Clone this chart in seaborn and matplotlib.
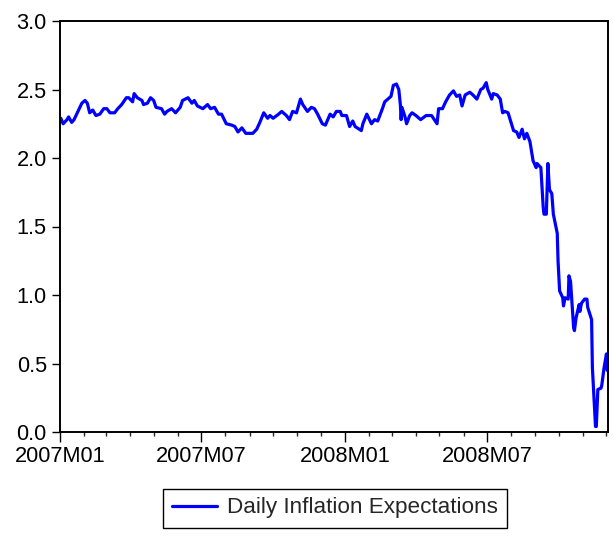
import matplotlib.pyplot as plt
import matplotlib.dates as mdates
import pandas as pd
import seaborn as sns

# Valores (datas aproximadas, expectativa de inflação em %)
datas = [
    "2007-01-02", "2007-01-05", "2007-01-10", "2007-01-12", "2007-01-16", "2007-01-19",
    "2007-01-24", "2007-01-29", "2007-02-02", "2007-02-05", "2007-02-08", "2007-02-12",
    "2007-02-16", "2007-02-21", "2007-02-26", "2007-03-02", "2007-03-06", "2007-03-12",
    "2007-03-16", "2007-03-21", "2007-03-27", "2007-03-30", "2007-04-04", "2007-04-06",
    "2007-04-10", "2007-04-16", "2007-04-18", "2007-04-23", "2007-04-27", "2007-05-01",
    "2007-05-04", "2007-05-11", "2007-05-15", "2007-05-18", "2007-05-24", "2007-05-29",
    "2007-06-04", "2007-06-07", "2007-06-14", "2007-06-19", "2007-06-22", "2007-06-26",
    "2007-07-03", "2007-07-09", "2007-07-13", "2007-07-18", "2007-07-23", "2007-07-27",
    "2007-08-02", "2007-08-09", "2007-08-13", "2007-08-17", "2007-08-22", "2007-08-27",
    "2007-08-29", "2007-09-05", "2007-09-10", "2007-09-14", "2007-09-19", "2007-09-24",
    "2007-09-27", "2007-10-01", "2007-10-08", "2007-10-12", "2007-10-18", "2007-10-22",
    "2007-10-26", "2007-10-31", "2007-11-05", "2007-11-08", "2007-11-14", "2007-11-19",
    "2007-11-23", "2007-11-27", "2007-12-03", "2007-12-07", "2007-12-13", "2007-12-17",
    "2007-12-21", "2007-12-26", "2007-12-28", "2008-01-03", "2008-01-07", "2008-01-11",
    "2008-01-14", "2008-01-22", "2008-01-24", "2008-01-29", "2008-02-04", "2008-02-08",
    "2008-02-12", "2008-02-18", "2008-02-21", "2008-02-25", "2008-02-29", "2008-03-03",
    "2008-03-07", "2008-03-10", "2008-03-12", "2008-03-13", "2008-03-14", "2008-03-18",
    "2008-03-20", "2008-03-24", "2008-03-27", "2008-04-01", "2008-04-07", "2008-04-14",
    "2008-04-21", "2008-04-28", "2008-04-30", "2008-05-05", "2008-05-09", "2008-05-14",
    "2008-05-19", "2008-05-23", "2008-05-27", "2008-05-30", "2008-06-03", "2008-06-09",
    "2008-06-13", "2008-06-18", "2008-06-23", "2008-06-26", "2008-06-30", "2008-07-02",
    "2008-07-07", "2008-07-09", "2008-07-14", "2008-07-18", "2008-07-21", "2008-07-24",
    "2008-07-28", "2008-08-04", "2008-08-08", "2008-08-11", "2008-08-15", "2008-08-18",
    "2008-08-21", "2008-08-25", "2008-08-29", "2008-09-02", "2008-09-03", "2008-09-08",
    "2008-09-11", "2008-09-12", "2008-09-15", "2008-09-17", "2008-09-19", "2008-09-22",
    "2008-09-24", "2008-09-29", "2008-09-30", "2008-10-02", "2008-10-06", "2008-10-07",
    "2008-10-09", "2008-10-13", "2008-10-14", "2008-10-16", "2008-10-20", "2008-10-21",
    "2008-10-23", "2008-10-27", "2008-10-28", "2008-10-30", "2008-11-03", "2008-11-06",
    "2008-11-07", "2008-11-12", "2008-11-13", "2008-11-17", "2008-11-18", "2008-11-20",
    "2008-11-24", "2008-11-25", "2008-11-28", "2008-12-01", "2008-12-02",
]
expectativa = [
    2.29, 2.25, 2.28, 2.30, 2.26, 2.28,
    2.34, 2.40, 2.42, 2.40, 2.33, 2.35,
    2.31, 2.32, 2.36, 2.36, 2.33, 2.33,
    2.36, 2.39, 2.44, 2.44, 2.41, 2.47,
    2.44, 2.42, 2.39, 2.40, 2.44, 2.42,
    2.37, 2.36, 2.32, 2.34, 2.36, 2.33,
    2.37, 2.42, 2.44, 2.40, 2.42, 2.38,
    2.36, 2.39, 2.36, 2.37, 2.32, 2.32,
    2.25, 2.24, 2.23, 2.19, 2.22, 2.18,
    2.18, 2.18, 2.21, 2.26, 2.33, 2.29,
    2.31, 2.29, 2.32, 2.34, 2.31, 2.28,
    2.34, 2.33, 2.43, 2.39, 2.34, 2.37,
    2.36, 2.32, 2.25, 2.24, 2.32, 2.30,
    2.34, 2.34, 2.31, 2.31, 2.23, 2.27,
    2.23, 2.20, 2.25, 2.32, 2.25, 2.28,
    2.27, 2.36, 2.41, 2.43, 2.45, 2.53,
    2.54, 2.50, 2.39, 2.28, 2.37, 2.30,
    2.25, 2.31, 2.33, 2.31, 2.28, 2.31,
    2.31, 2.25, 2.36, 2.36, 2.41, 2.46,
    2.49, 2.45, 2.46, 2.38, 2.46, 2.48,
    2.46, 2.43, 2.50, 2.51, 2.55, 2.50,
    2.43, 2.47, 2.46, 2.43, 2.33, 2.34,
    2.33, 2.20, 2.19, 2.15, 2.21, 2.14,
    2.18, 2.12, 1.98, 1.93, 1.96, 1.93,
    1.64, 1.59, 1.59, 1.96, 1.77, 1.74,
    1.59, 1.45, 1.25, 1.03, 0.98, 0.92,
    0.98, 0.97, 1.14, 1.10, 0.76, 0.74,
    0.83, 0.93, 0.88, 0.94, 0.97, 0.97,
    0.91, 0.82, 0.47, 0.04, 0.04, 0.31,
    0.32, 0.34, 0.47, 0.57, 0.45,
]
rotulo_serie = "Daily Inflation Expectations"
marcas_x = ["2007-01-01", "2007-07-01", "2008-01-01", "2008-07-01"]
marcas_y = [0.0, 0.5, 1.0, 1.5, 2.0, 2.5, 3.0]

df = pd.DataFrame({"data": pd.to_datetime(datas), "valor": expectativa})

sns.set_style("ticks")
plt.rcParams["font.family"] = ["Liberation Sans", "DejaVu Sans"]

fig = plt.figure(figsize=(6.13, 5.56), dpi=100)
ax = fig.add_axes([60 / 613, 1 - 432 / 556, 548 / 613, 411 / 556])

sns.lineplot(data=df, x="data", y="valor", ax=ax, color="#0000ff",
             linewidth=2.3, label=rotulo_serie, legend=False)

ax.set_xlim(pd.Timestamp("2007-01-01"), pd.Timestamp("2008-12-03"))
ax.set_ylim(0, 3.0)
ax.set_xlabel("")
ax.set_ylabel("")

ax.set_xticks(pd.to_datetime(marcas_x))
ax.xaxis.set_major_formatter(mdates.DateFormatter("%YM%m"))
ax.xaxis.set_minor_locator(mdates.MonthLocator())
ax.set_yticks(marcas_y)
ax.set_yticklabels([f"{v:.1f}" for v in marcas_y])

for lado in ["top", "right", "left", "bottom"]:
    ax.spines[lado].set_visible(True)
    ax.spines[lado].set_color("black")
    ax.spines[lado].set_linewidth(1.4)

ax.tick_params(axis="x", which="major", direction="out", length=7, width=1,
               pad=3, labelsize=15.7, colors="black")
ax.tick_params(axis="x", which="minor", direction="out", length=3, width=1)
ax.tick_params(axis="y", which="major", direction="out", length=5.5, width=1,
               pad=4, labelsize=15.7, colors="black")

fig.legend(loc="center", bbox_to_anchor=(335 / 613, 1 - 508 / 556),
           frameon=True, fancybox=False, edgecolor="black", framealpha=1,
           fontsize=16.2, handlelength=2.0, handletextpad=0.45, borderpad=0.4,
           borderaxespad=0)
fig.legends[0].get_frame().set_linewidth(1.0)

fig.savefig("out.png", dpi=100)
